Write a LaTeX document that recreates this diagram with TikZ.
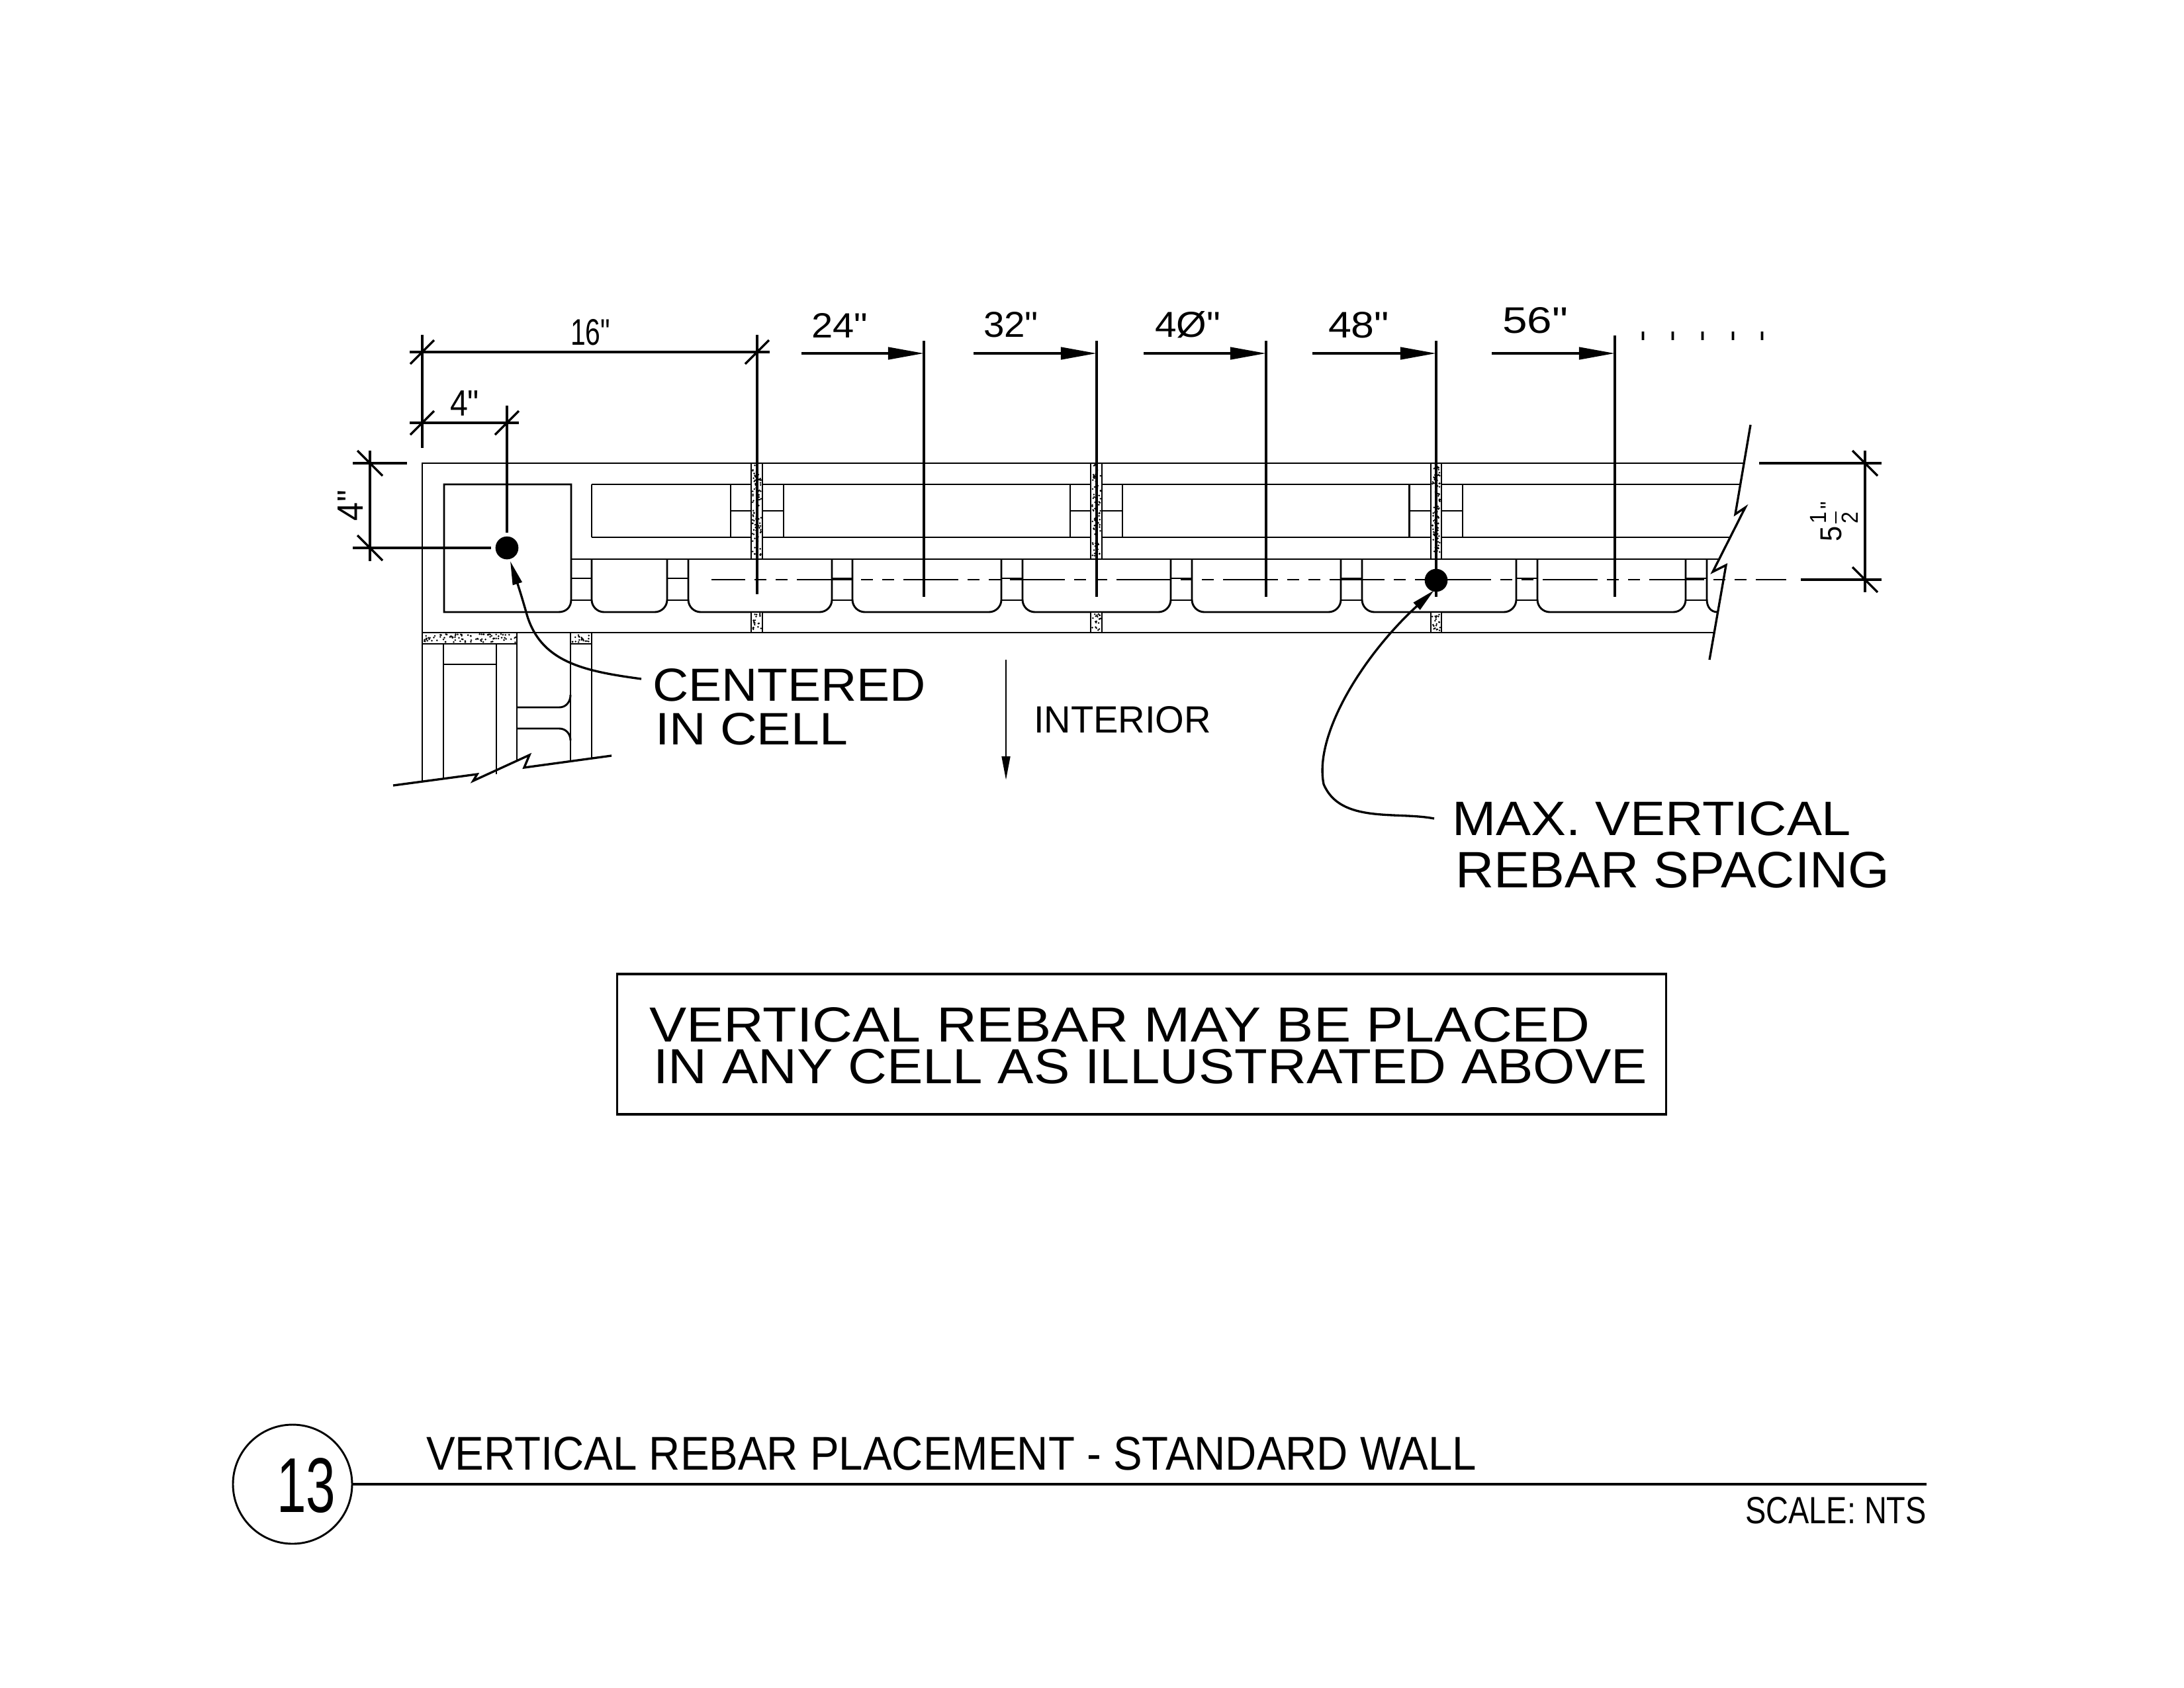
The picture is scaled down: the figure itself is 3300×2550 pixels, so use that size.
\documentclass[tikz,border=0pt]{standalone}
\usepackage{graphicx}
\usepackage{fontspec}
\usetikzlibrary{arrows.meta}
\setmainfont{Liberation Sans}
\newfontfamily\cadfont{Liberation Sans}
\newlength{\pxu}
\setlength{\pxu}{0.24pt}
\newcommand{\cad}[3]{\resizebox{#1\pxu}{#2\pxu}{\cadfont #3}}
\newcommand{\grout}[5]{%
	\draw[wall,fill=white] (#1,#2) rectangle (#3,#4);
	\foreach \k in {1,...,#5}{%
		\pgfmathsetmacro{\groutx}{#1+2+rnd*(#3-#1-4)}%
		\pgfmathsetmacro{\grouty}{#2+2+rnd*(#4-#2-4)}%
		\fill (\groutx,\grouty) circle[radius=1.4];
	}%
}
\tikzset{
	wall/.style={line width=0.7pt},
	dimline/.style={line width=0.8pt},
	centerline/.style={line width=0.7pt,dash pattern=on 19.92pt off 3.36pt on 4.32pt off 3.36pt on 4.32pt off 3.36pt,dash phase=7.68pt},
	spacing/.style={line width=0.9pt,-{Triangle[length=13pt,width=4.4pt]}},
	leader/.style={line width=0.8pt,-{Triangle[length=8.6pt,width=3.4pt]}},
	rebar/.style={circle,draw,fill=black,inner sep=0pt,minimum size=33\pxu},
	lbl/.style={inner sep=0pt,outer sep=0pt,anchor=south west},
	rlbl/.style={inner sep=0pt,outer sep=0pt,rotate=90}
}
\begin{document}
\begin{tikzpicture}[x=\pxu,y=-\pxu]
\useasboundingbox (0,0) rectangle (3300,2550);
\pgfmathsetseed{13}
\begin{scope}[wall]
	\draw (638,956) -- (638,700) -- (2635,700);
	\draw (638,956) -- (2589,956);
	\draw (863,845) -- (2597,845);
	\draw (671,925) -- (671,732) -- (863,732) -- (863,906) .. controls (863,918) and (855,925) .. (844,925) -- cycle;
	\draw (894,732) -- (2628,732);
	\draw (894,812) -- (2613,812);
	\foreach \x in {894,1104,1184,1617,1696,2129.5,2210}
		\draw (\x,732) -- (\x,812);
	\foreach \xa/\xb in {1104/1184,1617/1696,2129.5/2210}
		\draw (\xa,772) -- (\xb,772);
	\foreach \xa/\xb in {894/1008,1040/1257,1288/1513,1545/1769,1801/2026,2058/2291,2323/2547}
		\draw[rounded corners=4.5pt] (\xa,845) -- (\xa,925) -- (\xb,925) -- (\xb,845);
	\foreach \xa/\xb in {863/894,1008/1040,1257/1288,1513/1545,1769/1801,2026/2058,2291/2323,2547/2579}{
		\draw (\xa,874) -- (\xb,874);
		\draw (\xa,907) -- (\xb,907);
	}
	\draw (2579,845) -- (2579,906) .. controls (2579,917) and (2585,925) .. (2595,925);
	\foreach \xa/\xb in {1135/1152,1648/1665,2162/2178}{
		\grout{\xa}{700}{\xb}{845}{90}
		\grout{\xa}{925}{\xb}{956}{20}
	}
	\grout{638}{956}{781}{973}{90}
	\grout{862}{956}{894}{973}{20}
	\foreach \x/\yb in {638/1180,670/1176,750/1170,781/1151,862/1149,894/1145}
		\draw (\x,973) -- (\x,\yb);
	\draw (670,1004) -- (750,1004);
	\draw (781,1069) -- (845,1069) .. controls (855,1069) and (862,1061) .. (862,1050);
	\draw (781,1101) -- (845,1101) .. controls (855,1101) and (862,1109) .. (862,1119);
\end{scope}
\draw[dimline] (594,1187) -- (721,1170) -- (715,1180) -- (800,1141) -- (792,1160) -- (924,1142);
\draw[dimline] (2645,642) -- (2622,777) -- (2637,767) -- (2588,864) -- (2608,854) -- (2583,997);
\draw[centerline] (1075,876) -- (2699,876);
\foreach \x/\yt/\yb in {638/506/677,766/613/805,1144/506/898,1396/515/902,1657/515/902,1913/515/902,2170/515/902,2440/507/902}
	\draw[dimline] (\x,\yt) -- (\x,\yb);
\coordinate (spanl) at (619,532);
\coordinate (spanr) at (1163,532);
\draw[dimline] (spanl) -- (spanr);
\coordinate (edgel) at (619,639);
\coordinate (edger) at (784,639);
\draw[dimline] (edgel) -- (edger);
\foreach \x/\y in {638/532,1144/532,638/639,766/639}
	\draw[dimline] (\x-18,\y+18) -- (\x+18,\y-18);
\draw[dimline] (533,700) -- (615,700);
\draw[dimline] (533,828) -- (742,828);
\draw[dimline] (559,681) -- (559,848);
\draw[dimline] (2658,700) -- (2843,700);
\draw[dimline] (2721,876) -- (2843,876);
\draw[dimline] (2818,681) -- (2818,895);
\foreach \x/\y in {559/700,559/828,2818/700,2818/876}
	\draw[dimline] (\x-19,\y-19) -- (\x+19,\y+19);
\foreach \n/\xs/\xe in {a/1211/1396,b/1471/1657,c/1728/1913,d/1983/2170,e/2254/2440}{
	\coordinate (from\n) at (\xs,534);
	\coordinate (to\n) at (\xe,534);
	\draw[spacing] (from\n) -- (to\n);
}
\node[rebar] (rebarA) at (766,828) {};
\node[rebar] (rebarB) at (2170,877) {};
\node[lbl] (dim16) at (862,522) {\cad{60}{39}{16"}};
\node[lbl] (dim4) at (680,628) {\cad{44}{38}{4"}};
\node[lbl] (dim24) at (1226,510) {\cad{85}{37}{24"}};
\node[lbl] (dim32) at (1486,510) {\cad{83}{38}{32"}};
\node[lbl] (dim40) at (1745,511) {\cad{99}{39}{4Ø"}};
\node[lbl] (dim48) at (2007,511) {\cad{92}{39}{48"}};
\node[lbl] (dim56) at (2270,504) {\cad{99}{39}{56"}};
\foreach \x [count=\i] in {2483,2528,2573,2619,2663}
	\node[inner sep=0pt] (more\i) at (\x,508) {\cad{11}{13}{.}};
\node[rlbl] (dimleft) at (529,764) {\cad{46}{38}{4"}};
\node[rlbl] (dimright) at (2771,788) {\resizebox*{60\pxu}{72\pxu}{\cadfont\scalebox{1.3}{5}$\displaystyle\frac{\mbox{\cadfont 1}}{\mbox{\cadfont 2}}$\raisebox{0.2em}{"}}};
\node[lbl] (centered) at (986,1060) {\cad{413}{49}{CENTERED}};
\node[lbl] (incell) at (990,1126) {\cad{291}{48}{IN CELL}};
\coordinate (centeredend) at (969,1026);
\draw[leader] (centeredend) .. controls (880,1014) and (815,1000) .. (795,925) .. controls (785,890) and (778,870) .. (771,848);
\node[lbl] (interior) at (1562,1108) {\cad{268}{40}{INTERIOR}};
\coordinate (intop) at (1520,997);
\coordinate (inbot) at (1520,1179);
\draw[line width=0.7pt,-{Triangle[length=8.6pt,width=3pt]}] (intop) -- (inbot);
\node[lbl] (maxvert) at (2194,1263) {\cad{603}{51}{MAX. VERTICAL}};
\node[lbl] (rebarsp) at (2199,1342) {\cad{656}{54}{REBAR SPACING}};
\coordinate (maxend) at (2167,1237);
\draw[leader] (maxend) .. controls (2110,1226) and (2025,1245) .. (2000,1185) .. controls (1985,1110) and (2060,990) .. (2167,892);
\node[draw,line width=0.8pt,inner sep=0pt,minimum width=1585\pxu,minimum height=212\pxu] (notebox) at (1725,1578) {};
\node[lbl] (noteone) at (981,1575) {\cad{1421}{52}{VERTICAL REBAR MAY BE PLACED}};
\node[lbl] (notetwo) at (987,1638) {\cad{1502}{52}{IN ANY CELL AS ILLUSTRATED ABOVE}};
\node[draw,circle,line width=0.7pt,inner sep=0pt,minimum size=180\pxu] (callout) at (442,2243) {};
\node[lbl] (calloutnum) at (418,2287) {\cad{89}{82}{13}};
\coordinate (titleend) at (2911,2243);
\draw[line width=0.9pt] (callout.east) -- (titleend);
\node[lbl] (title) at (644,2222) {\cad{1587}{50}{VERTICAL REBAR PLACEMENT - STANDARD WALL}};
\node[lbl] (scale) at (2637,2303) {\cad{274}{40}{SCALE: NTS}};
\end{tikzpicture}
\end{document}
